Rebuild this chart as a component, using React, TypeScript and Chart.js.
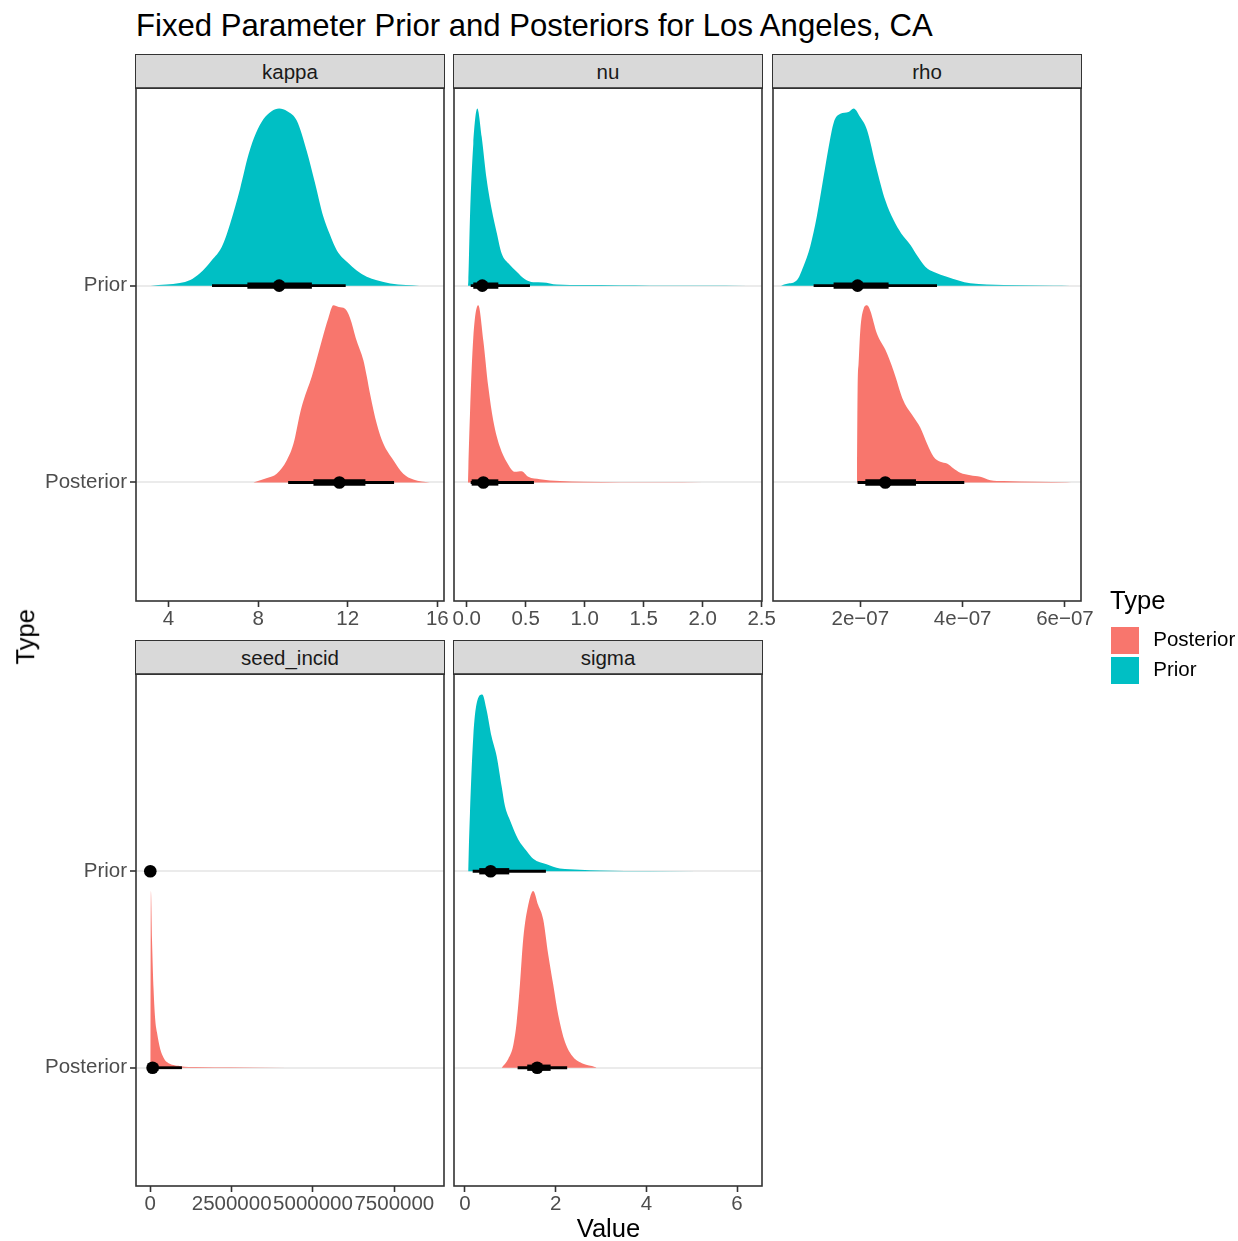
import React, { useEffect, useRef } from "react";
import { Chart, registerables } from "chart.js";
Chart.register(...registerables);

// ---------- data ----------
const typeLevels = ["Posterior", "Prior"]; // y = 1, 2
const priorColor = "#00BFC4";
const posteriorColor = "#F8766D";
const titleText = "Fixed Parameter Prior and Posteriors for Los Angeles, CA";

// kappa
const kappaPriorX = [3.2, 3.9, 4.5, 4.97, 5.4, 5.94, 6.38, 6.75, 7.2, 7.57, 7.9, 8.24, 8.6, 8.94, 9.3, 9.73, 10.17, 10.54, 10.91, 11.2, 11.51, 12.0, 12.4, 12.85, 13.3, 13.9, 14.6, 15.2];
const kappaPriorD = [0, 0.006, 0.015, 0.032, 0.07, 0.145, 0.22, 0.35, 0.55, 0.74, 0.86, 0.94, 0.985, 1.0, 0.985, 0.93, 0.76, 0.58, 0.39, 0.29, 0.2, 0.13, 0.085, 0.05, 0.03, 0.012, 0.003, 0];
const kappaPostX = [7.79, 8.4, 8.83, 9.28, 9.58, 9.87, 10.02, 10.4, 10.84, 11.14, 11.36, 11.6, 11.88, 12.1, 12.4, 12.7, 12.85, 13.0, 13.3, 13.59, 14.04, 14.48, 14.93, 15.67];
const kappaPostD = [0, 0.025, 0.05, 0.126, 0.22, 0.39, 0.46, 0.6, 0.8, 0.93, 1.0, 0.99, 0.98, 0.93, 0.8, 0.69, 0.6, 0.5, 0.33, 0.22, 0.126, 0.05, 0.017, 0];
const kappaPriorInt = [8.94, 7.52, 10.4, 5.94, 11.91]; // median, lo66, hi66, lo95, hi95
const kappaPostInt = [11.63, 10.47, 12.79, 9.34, 14.07];
const kappaTicks = [4, 8, 12, 16];
const kappaTickLabels = ["4", "8", "12", "16"];
const kappaLimits = [2.546, 16.3];

// nu
const nuPriorX = [0.011, 0.014, 0.028, 0.056, 0.09, 0.127, 0.169, 0.212, 0.254, 0.297, 0.353, 0.424, 0.494, 0.564, 0.647, 0.763, 0.986, 1.3, 1.55, 2.0, 2.375];
const nuPriorD = [0, 0.03, 0.39, 0.8, 1.0, 0.84, 0.6, 0.43, 0.3, 0.18, 0.126, 0.079, 0.036, 0.019, 0.018, 0.006, 0.003, 0.002, 0.001, 0.001, 0];
const nuPostX = [0.011, 0.014, 0.028, 0.056, 0.098, 0.141, 0.183, 0.225, 0.282, 0.339, 0.409, 0.466, 0.522, 0.621, 0.79, 0.986, 1.3, 1.66, 2.0];
const nuPostD = [0, 0.08, 0.39, 0.82, 1.0, 0.8, 0.54, 0.35, 0.2, 0.116, 0.06, 0.064, 0.032, 0.019, 0.008, 0.004, 0.002, 0.001, 0];
const nuPriorInt = [0.132, 0.056, 0.268, 0.034, 0.536];
const nuPostInt = [0.141, 0.042, 0.268, 0.034, 0.57];
const nuTicks = [0, 0.5, 1.0, 1.5, 2.0, 2.5];
const nuTickLabels = ["0.0", "0.5", "1.0", "1.5", "2.0", "2.5"];
const nuLimits = [-0.1076, 2.5025];

// rho
const rhoPriorX = [0.45e-7, 0.57e-7, 0.76e-7, 0.89e-7, 1.02e-7, 1.15e-7, 1.28e-7, 1.38e-7, 1.48e-7, 1.61e-7, 1.77e-7, 1.87e-7, 2.0e-7, 2.13e-7, 2.31e-7, 2.49e-7, 2.65e-7, 2.8e-7, 2.98e-7, 3.11e-7, 3.27e-7, 3.45e-7, 3.69e-7, 4.15e-7, 4.8e-7, 5.77e-7, 6.1e-7];
const rhoPriorD = [0, 0.01, 0.03, 0.11, 0.22, 0.39, 0.61, 0.78, 0.92, 0.97, 0.98, 1.0, 0.95, 0.88, 0.67, 0.48, 0.37, 0.295, 0.23, 0.17, 0.107, 0.075, 0.05, 0.013, 0.004, 0.001, 0];
const rhoPostX = [1.936e-7, 1.947e-7, 1.966e-7, 2.0e-7, 2.065e-7, 2.131e-7, 2.195e-7, 2.326e-7, 2.488e-7, 2.651e-7, 2.846e-7, 3.041e-7, 3.172e-7, 3.303e-7, 3.432e-7, 3.563e-7, 3.694e-7, 3.823e-7, 3.954e-7, 4.149e-7, 4.345e-7, 4.54e-7, 4.8e-7, 5.453e-7, 6.039e-7, 6.2e-7];
const rhoPostD = [0, 0.52, 0.67, 0.86, 0.98, 1.0, 0.97, 0.84, 0.75, 0.63, 0.46, 0.37, 0.31, 0.22, 0.145, 0.117, 0.107, 0.079, 0.055, 0.041, 0.032, 0.013, 0.008, 0.004, 0.002, 0];
const rhoPriorInt = [1.947e-7, 1.478e-7, 2.553e-7, 1.088e-7, 3.499e-7];
const rhoPostInt = [2.488e-7, 2.098e-7, 3.088e-7, 1.947e-7, 4.032e-7];
const rhoTicks = [2e-7, 4e-7, 6e-7];
const rhoTickLabels = ["2e\u221207", "4e\u221207", "6e\u221207"];
const rhoLimits = [2.94e-8, 6.313e-7];

// seed_incid
const seedPostX = [0, 5000, 20000, 52000, 102000, 153000, 205000, 307000, 409000, 512000, 921000, 1430000, 2500000, 4200000];
const seedPostD = [0, 0.6, 1.0, 0.73, 0.44, 0.27, 0.2, 0.104, 0.057, 0.032, 0.009, 0.004, 0.002, 0];
const seedPriorInt = [0, 0, 0, 0, 0];
const seedPostInt = [70600, 20000, 250000, 5000, 973000];
const seedTicks = [0, 2500000, 5000000, 7500000];
const seedTickLabels = ["0", "2500000", "5000000", "7500000"];
const seedLimits = [-439000, 9026000];

// sigma
const sigmaPriorX = [0.07, 0.073, 0.11, 0.183, 0.258, 0.381, 0.478, 0.588, 0.699, 0.809, 0.881, 0.99, 1.175, 1.36, 1.505, 1.8, 2.093, 2.534, 2.975, 4.077, 6.207];
const sigmaPriorD = [0, 0.03, 0.33, 0.76, 0.95, 1.0, 0.91, 0.76, 0.65, 0.48, 0.37, 0.29, 0.18, 0.115, 0.071, 0.039, 0.015, 0.009, 0.004, 0.001, 0];
const sigmaPostX = [0.809, 0.954, 1.064, 1.139, 1.212, 1.285, 1.395, 1.505, 1.615, 1.725, 1.836, 1.946, 2.056, 2.204, 2.386, 2.607, 2.865, 2.902];
const sigmaPostD = [0, 0.05, 0.125, 0.255, 0.47, 0.73, 0.92, 1.0, 0.92, 0.84, 0.64, 0.47, 0.3, 0.147, 0.06, 0.022, 0.004, 0];
const sigmaPriorInt = [0.566, 0.315, 0.976, 0.17, 1.785];
const sigmaPostInt = [1.593, 1.373, 1.889, 1.161, 2.254];
const sigmaTicks = [0, 2, 4, 6];
const sigmaTickLabels = ["0", "2", "4", "6"];
const sigmaLimits = [-0.242, 6.551];

// ---------- layout / style ----------
const FONT = "'Liberation Sans', Arial, Helvetica, sans-serif";
const SMALL = 20.5;
const MEDIUM = 25.6;
const LARGE = 31.1;
const DENSITY_SCALE = 0.9;
const Y_LIMITS = [0.398, 3.004];

type PanelDef = {
  name: string;
  priorX?: number[];
  priorD?: number[];
  postX?: number[];
  postD?: number[];
  priorInt: number[];
  postInt: number[];
  ticks: number[];
  tickLabels: string[];
  limits: number[];
  left: number;
  top: number;
  width: number;
  height: number;
  showY: boolean;
};

const panels: PanelDef[] = [
  { name: "kappa", priorX: kappaPriorX, priorD: kappaPriorD, postX: kappaPostX, postD: kappaPostD, priorInt: kappaPriorInt, postInt: kappaPostInt, ticks: kappaTicks, tickLabels: kappaTickLabels, limits: kappaLimits, left: 136, top: 88, width: 308, height: 513, showY: true },
  { name: "nu", priorX: nuPriorX, priorD: nuPriorD, postX: nuPostX, postD: nuPostD, priorInt: nuPriorInt, postInt: nuPostInt, ticks: nuTicks, tickLabels: nuTickLabels, limits: nuLimits, left: 454, top: 88, width: 308, height: 513, showY: false },
  { name: "rho", priorX: rhoPriorX, priorD: rhoPriorD, postX: rhoPostX, postD: rhoPostD, priorInt: rhoPriorInt, postInt: rhoPostInt, ticks: rhoTicks, tickLabels: rhoTickLabels, limits: rhoLimits, left: 773, top: 88, width: 308, height: 513, showY: false },
  { name: "seed_incid", postX: seedPostX, postD: seedPostD, priorInt: seedPriorInt, postInt: seedPostInt, ticks: seedTicks, tickLabels: seedTickLabels, limits: seedLimits, left: 136, top: 674, width: 308, height: 512, showY: true },
  { name: "sigma", priorX: sigmaPriorX, priorD: sigmaPriorD, postX: sigmaPostX, postD: sigmaPostD, priorInt: sigmaPriorInt, postInt: sigmaPostInt, ticks: sigmaTicks, tickLabels: sigmaTickLabels, limits: sigmaLimits, left: 454, top: 674, width: 308, height: 512, showY: false },
];

const borderPlugin = {
  id: "panelBorder",
  afterDraw(chart: any) {
    const { ctx, chartArea } = chart;
    ctx.save();
    ctx.strokeStyle = "#333333";
    ctx.lineWidth = 1.6;
    ctx.strokeRect(chartArea.left, chartArea.top, chartArea.right - chartArea.left, chartArea.bottom - chartArea.top);
    ctx.restore();
  },
};

function buildDatasets(def: PanelDef) {
  const ds: any[] = [];
  const addInterval = (int: number[], base: number) => {
    ds.push({
      data: [{ x: int[0], y: base }],
      showLine: false,
      pointRadius: 6.3,
      pointBackgroundColor: "#000000",
      pointBorderColor: "#000000",
      pointBorderWidth: 0,
      order: 0,
    });
    ds.push({
      data: [{ x: int[1], y: base }, { x: int[2], y: base }],
      borderColor: "#000000",
      borderWidth: 6.3,
      borderCapStyle: "butt",
      pointRadius: 0,
      fill: false,
      order: 1,
    });
    ds.push({
      data: [{ x: int[3], y: base }, { x: int[4], y: base }],
      borderColor: "#000000",
      borderWidth: 2.8,
      borderCapStyle: "butt",
      pointRadius: 0,
      fill: false,
      order: 2,
    });
  };
  const addDensity = (xs: number[] | undefined, ds_: number[] | undefined, base: number, color: string) => {
    if (!xs || !ds_) return;
    ds.push({
      data: xs.map((x, i) => ({ x, y: base + ds_[i] * DENSITY_SCALE })),
      borderColor: "rgba(0,0,0,0)",
      borderWidth: 0,
      backgroundColor: color,
      fill: { value: base },
      pointRadius: 0,
      cubicInterpolationMode: "monotone",
      order: 3,
    });
  };
  addInterval(def.priorInt, 2);
  addInterval(def.postInt, 1);
  addDensity(def.priorX, def.priorD, 2, priorColor);
  addDensity(def.postX, def.postD, 1, posteriorColor);
  return ds;
}

function Panel({ def }: { def: PanelDef }) {
  const ref = useRef<HTMLCanvasElement>(null);
  const yW = def.showY ? 100 : 0;
  const padL = 14;
  const padR = 34;
  const padT = 14;
  const xH = 38;
  const cw = def.width + yW + padL + padR;
  const ch = def.height + xH + padT;
  const canvasLeft = def.left - yW - padL;
  const canvasTop = def.top - padT;

  useEffect(() => {
    if (!ref.current) return;
    const chart = new Chart(ref.current, {
      type: "line",
      data: { datasets: buildDatasets(def) },
      options: {
        animation: false,
        responsive: false,
        maintainAspectRatio: false,
        events: [],
        layout: { padding: { left: padL, right: padR, top: padT, bottom: 0 } },
        plugins: { legend: { display: false }, tooltip: { enabled: false }, title: { display: false } },
        scales: {
          x: {
            type: "linear",
            position: "bottom",
            min: def.limits[0],
            max: def.limits[1],
            bounds: "data",
            afterBuildTicks: (s: any) => {
              s.ticks = def.ticks.map((v) => ({ value: v }));
            },
            afterFit: (s: any) => {
              s.height = xH;
              s.paddingLeft = 0;
              s.paddingRight = 0;
            },
            ticks: {
              autoSkip: false,
              maxRotation: 0,
              minRotation: 0,
              padding: 0,
              color: "#4D4D4D",
              font: { family: FONT, size: SMALL },
              callback: (_v: any, i: number) => def.tickLabels[i],
            },
            grid: { drawOnChartArea: false, drawTicks: true, tickLength: 6, tickColor: "#333333", tickWidth: 1.6 },
            border: { display: false },
          },
          y: {
            type: "linear",
            position: "left",
            min: Y_LIMITS[0],
            max: Y_LIMITS[1],
            bounds: "data",
            afterBuildTicks: (s: any) => {
              s.ticks = [{ value: 1 }, { value: 2 }];
            },
            afterFit: (s: any) => {
              s.width = yW;
              s.paddingTop = 0;
              s.paddingBottom = 0;
            },
            ticks: {
              display: def.showY,
              padding: 3,
              color: "#4D4D4D",
              font: { family: FONT, size: SMALL },
              callback: (v: any) => typeLevels[Math.round(Number(v)) - 1],
            },
            grid: { color: "#EBEBEB", lineWidth: 2, drawTicks: def.showY, tickLength: 6, tickColor: "#333333", tickWidth: 1.6 },
            border: { display: false },
          },
        },
      } as any,
      plugins: [borderPlugin],
    });
    return () => chart.destroy();
  }, []);

  return (
    <canvas
      ref={ref}
      width={cw}
      height={ch}
      style={{ position: "absolute", left: canvasLeft, top: canvasTop, width: cw, height: ch }}
    />
  );
}

function Strip({ def }: { def: PanelDef }) {
  const stripTop = def.top - 34;
  return (
    <>
      <div
        style={{
          position: "absolute",
          left: def.left - 0.8,
          top: stripTop,
          width: def.width + 1.6,
          height: 34.8,
          boxSizing: "border-box",
          border: "1.6px solid #333333",
          background: "#D9D9D9",
        }}
      />
      <div
        style={{
          position: "absolute",
          left: def.left,
          width: def.width,
          top: stripTop + 25.3 - 0.8465 * SMALL,
          fontFamily: FONT,
          fontSize: SMALL,
          lineHeight: SMALL + "px",
          color: "#1A1A1A",
          textAlign: "center",
          whiteSpace: "nowrap",
        }}
      >
        {def.name}
      </div>
    </>
  );
}

export default function App() {
  return (
    <div style={{ position: "absolute", left: 0, top: 0, width: 1238, height: 1241, background: "#FFFFFF", overflow: "hidden" }}>
      <div
        style={{
          position: "absolute",
          left: 136,
          top: 36.8 - 0.8465 * LARGE,
          fontFamily: FONT,
          fontSize: LARGE,
          lineHeight: LARGE + "px",
          color: "#000000",
          whiteSpace: "nowrap",
        }}
      >
        {titleText}
      </div>
      {panels.map((p) => (
        <Strip key={"s" + p.name} def={p} />
      ))}
      {panels.map((p) => (
        <Panel key={p.name} def={p} />
      ))}
      {/* y axis title */}
      <div
        style={{
          position: "absolute",
          left: 25.6 - 100,
          top: 637 - MEDIUM / 2,
          width: 200,
          height: MEDIUM,
          fontFamily: FONT,
          fontSize: MEDIUM,
          lineHeight: MEDIUM + "px",
          textAlign: "center",
          color: "#000000",
          transform: "rotate(-90deg)",
          whiteSpace: "nowrap",
        }}
      >
        Type
      </div>
      {/* x axis title */}
      <div
        style={{
          position: "absolute",
          left: 608.5 - 100,
          top: 1237.5 - 0.8465 * MEDIUM,
          width: 200,
          fontFamily: FONT,
          fontSize: MEDIUM,
          lineHeight: MEDIUM + "px",
          textAlign: "center",
          color: "#000000",
          whiteSpace: "nowrap",
        }}
      >
        Value
      </div>
      {/* legend */}
      <div style={{ position: "absolute", left: 1110, top: 610 - 0.8465 * MEDIUM, fontFamily: FONT, fontSize: MEDIUM, lineHeight: MEDIUM + "px", color: "#000000" }}>
        Type
      </div>
      <div style={{ position: "absolute", left: 1111, top: 627, width: 28, height: 27, background: posteriorColor }} />
      <div style={{ position: "absolute", left: 1111, top: 657, width: 28, height: 27, background: priorColor }} />
      <div style={{ position: "absolute", left: 1153.3, top: 646.7 - 0.8465 * SMALL, fontFamily: FONT, fontSize: SMALL, lineHeight: SMALL + "px", color: "#000000", whiteSpace: "nowrap" }}>
        {typeLevels[0]}
      </div>
      <div style={{ position: "absolute", left: 1153.3, top: 676.7 - 0.8465 * SMALL, fontFamily: FONT, fontSize: SMALL, lineHeight: SMALL + "px", color: "#000000", whiteSpace: "nowrap" }}>
        {typeLevels[1]}
      </div>
    </div>
  );
}
